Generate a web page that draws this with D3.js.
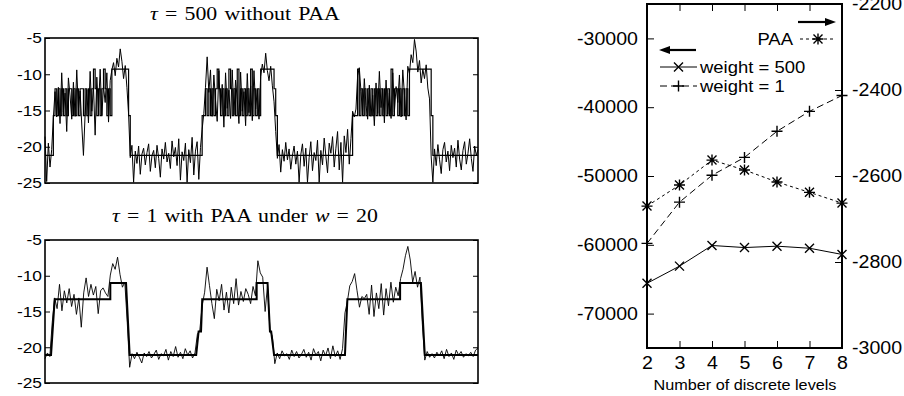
<!DOCTYPE html>
<html>
<head>
<meta charset="utf-8">
<title>Discrete levels</title>
<script src="https://d3js.org/d3.v7.min.js"></script>
<style>
  body { margin: 0; background: white; }
  svg { display: block; }
  .sans { font-family: "Liberation Sans", Arial, Helvetica, sans-serif; }
  .serif { font-family: "Liberation Serif", "Times New Roman", serif; }
</style>
</head>
<body>
<svg id="fig" width="904" height="396"></svg>
<script>
  // ---- left panels: time series ----
  var seriesTicks = [-5, -10, -15, -20, -25];
  // discrete levels used in the top panel, state string indexes them
  var topLevelValues = [-21.2, -15.7, -12.0, -9.3];
  var topStates =
    "0000012121" + "2121221212" + "1221212123" + "2121232121" + "3333333333" +
    "1000000000" + "0000000000" + "0000000000" + "0000000000" + "0000112121" +
    "2123212121" + "3212131212" + "1213121213" + "3333333210" + "0000000000" +
    "0000000000" + "0000000000" + "0000000000" + "0000111312" + "1212121212" +
    "1212121312" + "2121212133" + "3333333333" + "3100000000" + "0000000000" +
    "0000000000";
  var topRaw = [
    -18.6, -24.8, -19.5, -22.8, -20.4, -16, -12.4, -15.9, -11.8, -16.8,
    -9.8, -15.2, -12.6, -17.9, -10.5, -13, -16.2, -11.1, -15.8, -9.4,
    -14.9, -12.3, -17, -21.2, -15.5, -12.1, -16.7, -9.6, -15.1, -11.8,
    -18.4, -10.4, -14.8, -9.3, -15.7, -11.7, -13.9, -9.8, -16.6, -10.9,
    -9.4, -8.4, -10.2, -7.8, -9, -6.5, -8.2, -10.6, -8.8, -11.8,
    -15.5, -21.5, -19.8, -24.9, -20.6, -22.3, -19.9, -23.8, -21, -20.2,
    -22.5, -20.8, -19.6, -23.4, -21.2, -20.5, -22.9, -19.8, -21.6, -24.2,
    -20.3, -21.7, -19.4, -22.1, -20.9, -23, -19.2, -21.4, -20.1, -22.6,
    -18.9, -24.6, -20.7, -21.9, -19.5, -24.9, -20.4, -22.2, -18.7, -23.9,
    -20.6, -19.3, -24.5, -20.1, -17.6, -15.4, -11.8, -7.6, -12.5, -9.4,
    -15.8, -10.1, -13.6, -16.5, -9.5, -15.2, -11.4, -17.3, -9.8, -14.7,
    -12.2, -16.1, -9.4, -15.6, -10.8, -13.5, -16.8, -9.7, -15.1, -12.4,
    -17.1, -9.9, -15.3, -11.6, -16.4, -9.5, -14.8, -12.1, -16.2, -10.3,
    -8.6, -9.8, -7.1, -9.5, -10.9, -8.9, -11.6, -13.8, -17.9, -21.6,
    -19.7, -23.5, -20.4, -22, -19.4, -21.8, -20.3, -23.1, -21.2, -19.9,
    -22.4, -20.6, -24.9, -21.1, -19.6, -22.7, -20.2, -24.9, -21.5, -19.3,
    -23.3, -20.8, -21.9, -19.1, -24.9, -20.5, -22.5, -18.8, -21.3, -23.6,
    -19.5, -20.9, -18.6, -22.8, -20.2, -17.9, -23.2, -19.4, -24.9, -18.5,
    -20.8, -17.6, -22.4, -18.9, -15.1, -15.9, -14.8, -10.2, -9.1, -12.4,
    -15.6, -10.6, -14.3, -16.2, -11.5, -15.8, -12.9, -17.1, -11.2, -15.4,
    -9.6, -14.6, -12, -16.7, -10.8, -15.5, -12.6, -16.1, -9.8, -15.2,
    -11.7, -13.9, -10.1, -15.9, -9.4, -12.8, -16.3, -8.9, -9.9, -7.3,
    -8.4, -5.2, -6.8, -9.7, -8.1, -11.2, -9.3, -10.6, -8.7, -11.9,
    -13.4, -21.4, -24.9, -20.3, -22.6, -19.7, -21.8, -23.7, -20.4, -19.4,
    -22.1, -20.6, -23.3, -19.8, -21.5, -20.2, -22.8, -19.1, -21.7, -23.2,
    -20.5, -19.3, -22.4, -20.9, -18.9, -21.6, -23.4, -19.9, -21.2, -20.4
  ];
  var bottomRaw = [
    -21.6, -20.8, -21.3, -16.5, -13.1,
    -14.6, -11.2, -14.9, -12.1, -13.8, -11.8, -14.3, -12.6, -15.4, -13.1, -17.2,
    -12.4, -10.3, -12.9, -11.2, -12.7, -11.5, -15.3, -12.1, -11.7, -12.4, -12.9,
    -9.9, -8.3, -9.1, -7.4, -9.8, -11.6, -10.9, -16.5, -22.8,
    -20.9, -21.6, -20.7, -21.4, -22.2, -20.8, -21.3, -20.6, -21.5, -21, -20.4, -21.7, -20.9, -21.2,
    -20.3, -21.8, -20.6, -21.3, -19.9, -21.4, -20.7, -21.6, -20.2, -21.1, -20.5, -21.5, -20.8,
    -18.2, -17.6, -14.1,
    -12.3, -8.8, -11.4, -13.9, -16.0, -11.9, -13.5, -11.2, -14.8, -12.3, -15.2,
    -11.6, -13.9, -10.4, -14.1, -12.2, -13.6, -11.8, -12.6, -13.9, -11.5, -12.8,
    -7.9, -9.6, -10.2, -15.0, -11.3, -17.6, -18.5, -22.3,
    -20.8, -21.6, -20.5, -21.2, -20.9, -21.7, -20.4, -21.3, -20.6, -21.5, -21, -20.3, -21.4, -20.7,
    -21.8, -20.2, -21.1, -20.6, -21.9, -20.4, -21.2, -20.1, -21.6, -19.8, -21.3, -20.5, -21.7, -20.2,
    -15.2, -13.6,
    -11.4, -10.8, -9.7, -12.1, -14.4, -12.9, -13.2, -12.6, -15.4, -11.3, -15.7,
    -12.4, -14.6, -11.1, -15.5, -11.8, -14.2, -10.9, -13.7, -11.6, -12.8,
    -10.4, -9.1, -7.2, -5.9, -7.8, -10.9, -9.4, -11.6, -10.2, -16.8, -21.8,
    -20.6, -21.4, -20.9, -21.5, -20.7, -21.2, -20.5, -21.6, -20.3, -21.3, -20.8,
    -21.7, -20.4, -21.1, -20.6, -21.4, -20.9, -21.2, -20.7, -21.3, -20.4, -20.1
  ];
  // PAA reconstruction (w = 20): vertices as (sample index, value)
  var paaX = [0, 2.5, 4, 27, 27, 33.5, 35, 62.5, 63.5, 64.5, 65, 87.5, 87.5, 92, 93, 93.5, 94.7, 124, 125, 146.8, 146.8, 155.4, 157, 179];
  var paaY = [-21.1, -21.1, -13.3, -13.3, -11, -11, -21.1, -21.1, -17.8, -17.8, -13.3, -13.3, -11, -11, -17.8, -17.8, -21.1, -21.1, -13.3, -13.3, -11, -11, -21.1, -21.1];

  // ---- right panel ----
  var levels = [2, 3, 4, 5, 6, 7, 8];
  var weight500 = [-65600, -63100, -60100, -60400, -60200, -60500, -61400];
  var weight1 = [-59800, -53800, -49900, -47300, -43500, -40600, -38300];
  var paaScore = [-2670, -2621, -2563, -2586, -2614, -2638, -2663];
  var leftTicks = [-30000, -40000, -50000, -60000, -70000];
  var rightTicks = [-2200, -2400, -2600, -2800, -3000];

  var SX = 1.12; // the picture is a bit wider than tall, so stretch text
  function stretch(sel) {
    sel.attr("transform", function () {
      var x = +this.getAttribute("x") || 0, y = +this.getAttribute("y") || 0;
      return "translate(" + x + "," + y + ") scale(" + SX + ",1) translate(" + (-x) + "," + (-y) + ")";
    });
  }
  var plain = d => String(d); // keep ascii hyphen for negatives

  var svg = d3.select("#fig");

  function seriesPanel(top, bottom, titleParts, titleY) {
    var L = 45, R = 478;
    var y = d3.scaleLinear([-25, -5], [bottom, top]);
    var g = svg.append("g");

    var ax = g.append("g").attr("class", "sans").attr("transform", "translate(" + L + ",0)")
      .call(d3.axisLeft(y).tickValues(seriesTicks).tickSize(-5).tickPadding(3).tickFormat(plain));
    ax.select(".domain").remove();
    ax.selectAll("text").attr("font-size", 15.5).attr("font-family", null).attr("fill", "#000");
    stretch(ax.selectAll("text"));
    var ax2 = g.append("g").attr("transform", "translate(" + R + ",0)")
      .call(d3.axisRight(y).tickValues(seriesTicks).tickSize(-5).tickFormat(""));
    ax2.select(".domain").remove();

    var t = g.append("text").attr("class", "serif").attr("x", 245).attr("y", titleY)
      .attr("text-anchor", "middle").attr("font-size", 19.5).attr("word-spacing", 1.5);
    titleParts.forEach(p => t.append("tspan").attr("font-style", p[1] ? "italic" : null).text(p[0]));
    stretch(t);

    g.append("rect").attr("x", L).attr("y", top).attr("width", R - L).attr("height", bottom - top)
      .attr("fill", "none").attr("stroke", "#000").attr("stroke-width", 1.6);
    return { g: g, y: y, L: L, R: R };
  }

  // top panel
  var p1 = seriesPanel(38, 183, [["τ", true], [" = 500 without PAA", false]], 20);
  var x1 = d3.scaleLinear([0, topRaw.length - 1], [p1.L, p1.R]);
  p1.g.append("path")
    .attr("d", d3.line().x((d, i) => x1(i)).y(d => p1.y(d))(topRaw))
    .attr("fill", "none").attr("stroke", "#000").attr("stroke-width", 1);
  p1.g.append("path")
    .attr("d", d3.line().curve(d3.curveStepAfter).x((d, i) => x1(i)).y(d => p1.y(topLevelValues[+d]))(topStates.split("")))
    .attr("fill", "none").attr("stroke", "#000").attr("stroke-width", 1.2);

  // bottom panel
  var p2 = seriesPanel(240, 383, [["τ", true], [" = 1 with PAA under ", false], ["w", true], [" = 20", false]], 222);
  var x2 = d3.scaleLinear([0, bottomRaw.length - 1], [p2.L, p2.R]);
  p2.g.append("path")
    .attr("d", d3.line().x((d, i) => x2(i)).y(d => p2.y(d))(bottomRaw))
    .attr("fill", "none").attr("stroke", "#000").attr("stroke-width", 0.9);
  p2.g.append("path")
    .attr("d", d3.line().x(i => x2(paaX[i])).y(i => p2.y(paaY[i]))(d3.range(paaX.length)))
    .attr("fill", "none").attr("stroke", "#000").attr("stroke-width", 2);

  // ---- right chart ----
  var RL = 647, RR = 842, RT = 4, RB = 348;
  var x = d3.scaleLinear([2, 8], [RL, RR]);
  var yL = d3.scaleLinear([-75000, -25000], [RB, RT]);
  var yR = d3.scaleLinear([-3000, -2200], [RB, RT]);
  var rc = svg.append("g").attr("class", "sans");

  function fixText(a, size) {
    a.select(".domain").remove();
    a.selectAll("text").attr("font-size", size).attr("font-family", null).attr("fill", "#000");
    stretch(a.selectAll("text"));
  }
  fixText(rc.append("g").attr("transform", "translate(" + RL + ",0)")
    .call(d3.axisLeft(yL).tickValues(leftTicks).tickSize(-7).tickPadding(9).tickFormat(plain)), 17.5);
  fixText(rc.append("g").attr("transform", "translate(" + RR + ",0)")
    .call(d3.axisRight(yR).tickValues(rightTicks).tickSize(-7).tickPadding(10).tickFormat(plain)), 17.5);
  fixText(rc.append("g").attr("transform", "translate(0," + RB + ")")
    .call(d3.axisBottom(x).tickValues(levels).tickSize(-7).tickPadding(9).tickFormat(plain)), 17.5);
  rc.append("g").attr("transform", "translate(0," + RT + ")")
    .call(d3.axisTop(x).tickValues(levels).tickSize(-7).tickFormat("")).select(".domain").remove();

  var xl = rc.append("text").attr("x", 745).attr("y", 390).attr("text-anchor", "middle")
    .attr("font-size", 14.5).text("Number of discrete levels");
  stretch(xl);

  function marker(g, kind, cx, cy) {
    var s = 4.5, d = "";
    if (kind === "x" || kind === "*") d += "M" + (cx - s) + "," + (cy - s) + "L" + (cx + s) + "," + (cy + s) + "M" + (cx - s) + "," + (cy + s) + "L" + (cx + s) + "," + (cy - s);
    if (kind === "+" || kind === "*") d += "M" + (cx - s - 1) + "," + cy + "L" + (cx + s + 1) + "," + cy + "M" + cx + "," + (cy - s - 1) + "L" + cx + "," + (cy + s + 1);
    g.append("path").attr("d", d).attr("stroke", "#000").attr("stroke-width", 1.4).attr("fill", "none");
  }

  var series = [
    { vals: weight500, y: yL, kind: "x", dash: null },
    { vals: weight1, y: yL, kind: "+", dash: "7,4" },
    { vals: paaScore, y: yR, kind: "*", dash: "3,3" }
  ];
  series.forEach(s => {
    rc.append("path")
      .attr("d", d3.line().x((d, i) => x(levels[i])).y(d => s.y(d))(s.vals))
      .attr("fill", "none").attr("stroke", "#000").attr("stroke-width", 1)
      .attr("stroke-dasharray", s.dash);
    s.vals.forEach((v, i) => marker(rc, s.kind, x(levels[i]), s.y(v)));
  });

  // legend
  function arrow(x0, x1a, yy) {
    var dir = x1a > x0 ? 1 : -1;
    rc.append("line").attr("x1", x0).attr("x2", x1a - dir * 8).attr("y1", yy).attr("y2", yy)
      .attr("stroke", "#000").attr("stroke-width", 2.2);
    rc.append("path").attr("d", "M" + x1a + "," + yy + "L" + (x1a - dir * 11) + "," + (yy - 4) + "L" + (x1a - dir * 11) + "," + (yy + 4) + "Z")
      .attr("fill", "#000");
  }
  arrow(798, 836, 22);
  arrow(696, 659, 50);

  var legendRows = [
    { label: "PAA", x0: 800, x1: 836, y: 39, kind: "*", dash: "3,3", anchor: "end", tx: 793 },
    { label: "weight = 500", x0: 660, x1: 697, y: 67, kind: "x", dash: null, anchor: "start", tx: 700 },
    { label: "weight = 1", x0: 660, x1: 697, y: 86, kind: "+", dash: "7,4", anchor: "start", tx: 700 }
  ];
  legendRows.forEach(r => {
    rc.append("line").attr("x1", r.x0).attr("x2", r.x1).attr("y1", r.y).attr("y2", r.y)
      .attr("stroke", "#000").attr("stroke-width", 1).attr("stroke-dasharray", r.dash);
    marker(rc, r.kind, (r.x0 + r.x1) / 2, r.y);
    var t = rc.append("text").attr("x", r.tx).attr("y", r.y + 6).attr("text-anchor", r.anchor)
      .attr("font-size", 16.5).text(r.label);
    stretch(t);
  });

  rc.append("rect").attr("x", RL).attr("y", RT).attr("width", RR - RL).attr("height", RB - RT)
    .attr("fill", "none").attr("stroke", "#000").attr("stroke-width", 2);
</script>
</body>
</html>
